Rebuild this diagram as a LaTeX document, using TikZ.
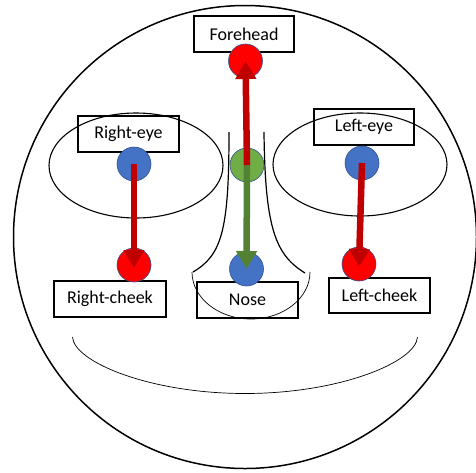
\documentclass[tikz,border=0pt]{standalone}
\usepackage{fontspec}
\setmainfont{Carlito}
\usetikzlibrary{arrows.meta,shapes.geometric}
\definecolor{dotblue}{HTML}{4472C4}
\definecolor{dotedge}{HTML}{2F528F}
\definecolor{dotgreen}{HTML}{70AD47}
\definecolor{arrred}{HTML}{C00000}
\definecolor{arrgreen}{HTML}{548235}
\tikzset{
  label box/.style={draw=black, line width=1.3pt, minimum height=36pt,
    inner sep=0pt, font=\fontsize{18}{21}\selectfont},
  dot/.style={circle, draw=dotedge, line width=0.6pt, minimum size=34pt, inner sep=0pt},
  bluedot/.style={dot, fill=dotblue},
  reddot/.style={dot, fill=red},
  greendot/.style={dot, fill=dotgreen},
  eye ring/.style={ellipse, draw=black, line width=1.1pt, inner sep=0pt},
  thick arrow/.style={line width=6.5pt, -{Triangle[width=20pt,length=18pt]}},
  red arrow/.style={thick arrow, draw=arrred, fill=arrred},
  green arrow/.style={thick arrow, draw=arrgreen, fill=arrgreen},
}
\begin{document}
\begin{tikzpicture}[x=1pt,y=1pt]
\useasboundingbox (0,0) rectangle (476,-472);

% head outline
\draw[line width=1.5pt] (245,-237) circle[radius=231.5];

% eyes
\node[eye ring, minimum width=174pt, minimum height=105pt] (reyering) at (136,-165.5) {};
\node[eye ring, minimum width=174pt, minimum height=103pt] (leyering) at (360,-164.5) {};

% nose sides and nostril arc
\draw[line width=1.2pt] (229,-132) .. controls (229,-230) and (222,-255) .. (193,-272);
\draw[line width=1.2pt] (264,-132) .. controls (265,-230) and (276,-255) .. (305,-273);
\draw[line width=0.7pt] (192,-272) arc[start angle=180, end angle=360, x radius=59, y radius=47];

% mouth
\draw[line width=0.7pt] (72.5,-337) .. controls (74,-362) and (150,-393.5) .. (245,-393.5)
  .. controls (340,-393.5) and (416,-362) .. (417.5,-337);

% labels
\node[label box, minimum width=100pt] (foreheadlbl) at (244,-34) {Forehead};
\node[label box, minimum width=101pt] (reyelbl) at (128.5,-134) {Right-eye};
\node[label box, minimum width=100pt] (leyelbl) at (364,-127) {Left-eye};
\node[label box, minimum width=112pt] (rcheeklbl) at (110,-299) {Right-cheek};
\node[label box, minimum width=101pt] (noselbl) at (247.5,-300) {Nose};
\node[label box, minimum width=101pt, minimum height=35pt] (lcheeklbl) at (379.5,-295.5) {Left-cheek};

% landmark points
\node[reddot] (forehead) at (245.5,-61) {};
\node[bluedot] (reye) at (134,-164) {};
\node[reddot] (rcheek) at (134,-265) {};
\node[greendot] (bridge) at (247,-165) {};
\node[bluedot] (nose) at (246.5,-269) {};
\node[bluedot] (leye) at (362,-163) {};
\node[reddot] (lcheek) at (359,-264) {};

% connections between landmarks
\draw[green arrow] (bridge.center) -- (nose.center);
\draw[red arrow] (bridge.center) -- (forehead.center);
\draw[red arrow, shorten >=-3pt] (reye.center) -- (rcheek.center);
\draw[red arrow, shorten >=-3pt] (leye.center) -- (lcheek.center);
\end{tikzpicture}
\end{document}
